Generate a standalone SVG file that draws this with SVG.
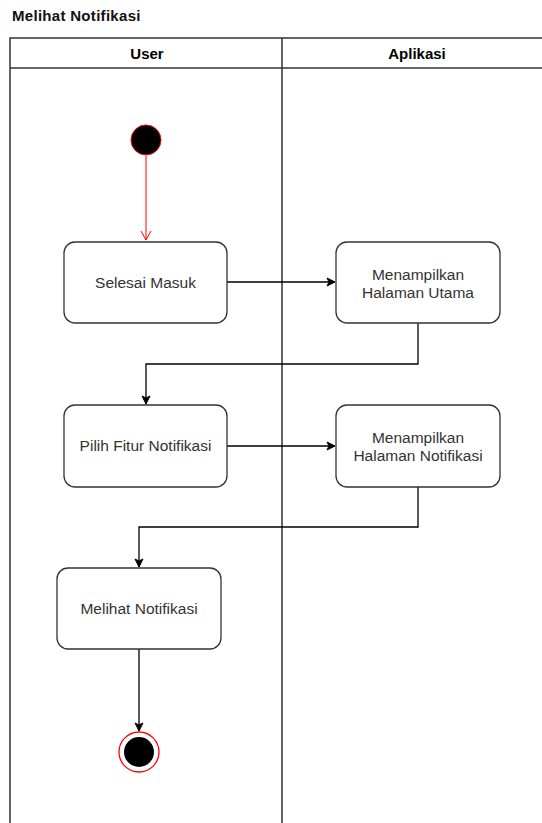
<svg xmlns="http://www.w3.org/2000/svg" width="542" height="823" viewBox="0 0 542 823">
  <defs>
    <marker id="arrow" markerWidth="10" markerHeight="10" refX="9" refY="5" orient="auto" markerUnits="userSpaceOnUse">
      <path d="M1,1 L9,5 L1,9 L3,5 Z" fill="#000" stroke="#000" stroke-width="1"/>
    </marker>
    <marker id="open" markerWidth="12" markerHeight="12" refX="10" refY="6" orient="auto" markerUnits="userSpaceOnUse">
      <path d="M1,1 L10,6 L1,11" fill="none" stroke="#ff0000" stroke-width="1"/>
    </marker>
  </defs>
  <style>
    .lane { fill: none; stroke: #333; stroke-width: 1.5; }
    .act { fill: #fff; stroke: #333; stroke-width: 1.3; }
    .lbl { font-family: "Liberation Sans", Arial, sans-serif; font-size: 15.5px; fill: #333; text-anchor: middle; }
    .hdr { font-family: "Liberation Sans", Arial, sans-serif; font-size: 15px; font-weight: bold; fill: #000; text-anchor: middle; }
    .edge { fill: none; stroke: #000; stroke-width: 1.3; }
  </style>
  <rect width="542" height="823" fill="#fff"/>

  <text x="12" y="21" font-family="'Liberation Sans', Arial, sans-serif" font-size="15" font-weight="bold" fill="#111" letter-spacing="0.3">Melihat Notifikasi</text>

  <!-- swimlane frame -->
  <g id="lanes">
    <path class="lane" d="M10,823 L10,38 L545,38 M10,68 L545,68 M282,38 L282,823"/>
    <text class="hdr" x="147" y="59">User</text>
    <text class="hdr" x="417" y="59">Aplikasi</text>
  </g>

  <g id="connectors">
    <line x1="146" y1="156" x2="146" y2="240" stroke="#ff0000" stroke-width="1" marker-end="url(#open)"/>
    <line class="edge" x1="227" y1="282" x2="335" y2="282" marker-end="url(#arrow)"/>
    <polyline class="edge" points="418,323 418,364 146,364 146,404" marker-end="url(#arrow)"/>
    <line class="edge" x1="227" y1="446" x2="335" y2="446" marker-end="url(#arrow)"/>
    <polyline class="edge" points="418,487 418,527 139,527 139,567" marker-end="url(#arrow)"/>
    <line class="edge" x1="139" y1="649" x2="139" y2="731" marker-end="url(#arrow)"/>
  </g>

  <g id="start">
    <circle cx="146" cy="140" r="15" fill="#000" stroke="#ff0000" stroke-width="1"/>
  </g>

  <g id="selesai-masuk">
    <rect class="act" x="64" y="242" width="163" height="81" rx="11"/>
    <text class="lbl" x="145.5" y="288">Selesai Masuk</text>
  </g>

  <g id="halaman-utama">
    <rect class="act" x="336" y="242" width="164" height="81" rx="11"/>
    <text class="lbl" x="418" y="280">Menampilkan</text>
    <text class="lbl" x="418" y="298">Halaman Utama</text>
  </g>

  <g id="pilih-fitur">
    <rect class="act" x="64" y="405" width="163" height="82" rx="11"/>
    <text class="lbl" x="145.5" y="451">Pilih Fitur Notifikasi</text>
  </g>

  <g id="halaman-notifikasi">
    <rect class="act" x="336" y="405" width="164" height="82" rx="11"/>
    <text class="lbl" x="418" y="443">Menampilkan</text>
    <text class="lbl" x="418" y="461">Halaman Notifikasi</text>
  </g>

  <g id="melihat-notifikasi">
    <rect class="act" x="57" y="568" width="164" height="81" rx="11"/>
    <text class="lbl" x="139" y="614">Melihat Notifikasi</text>
  </g>

  <g id="end">
    <circle cx="139" cy="752" r="20" fill="#fff" stroke="#ff0000" stroke-width="1.3"/>
    <circle cx="139" cy="752" r="15" fill="#000"/>
  </g>
</svg>
